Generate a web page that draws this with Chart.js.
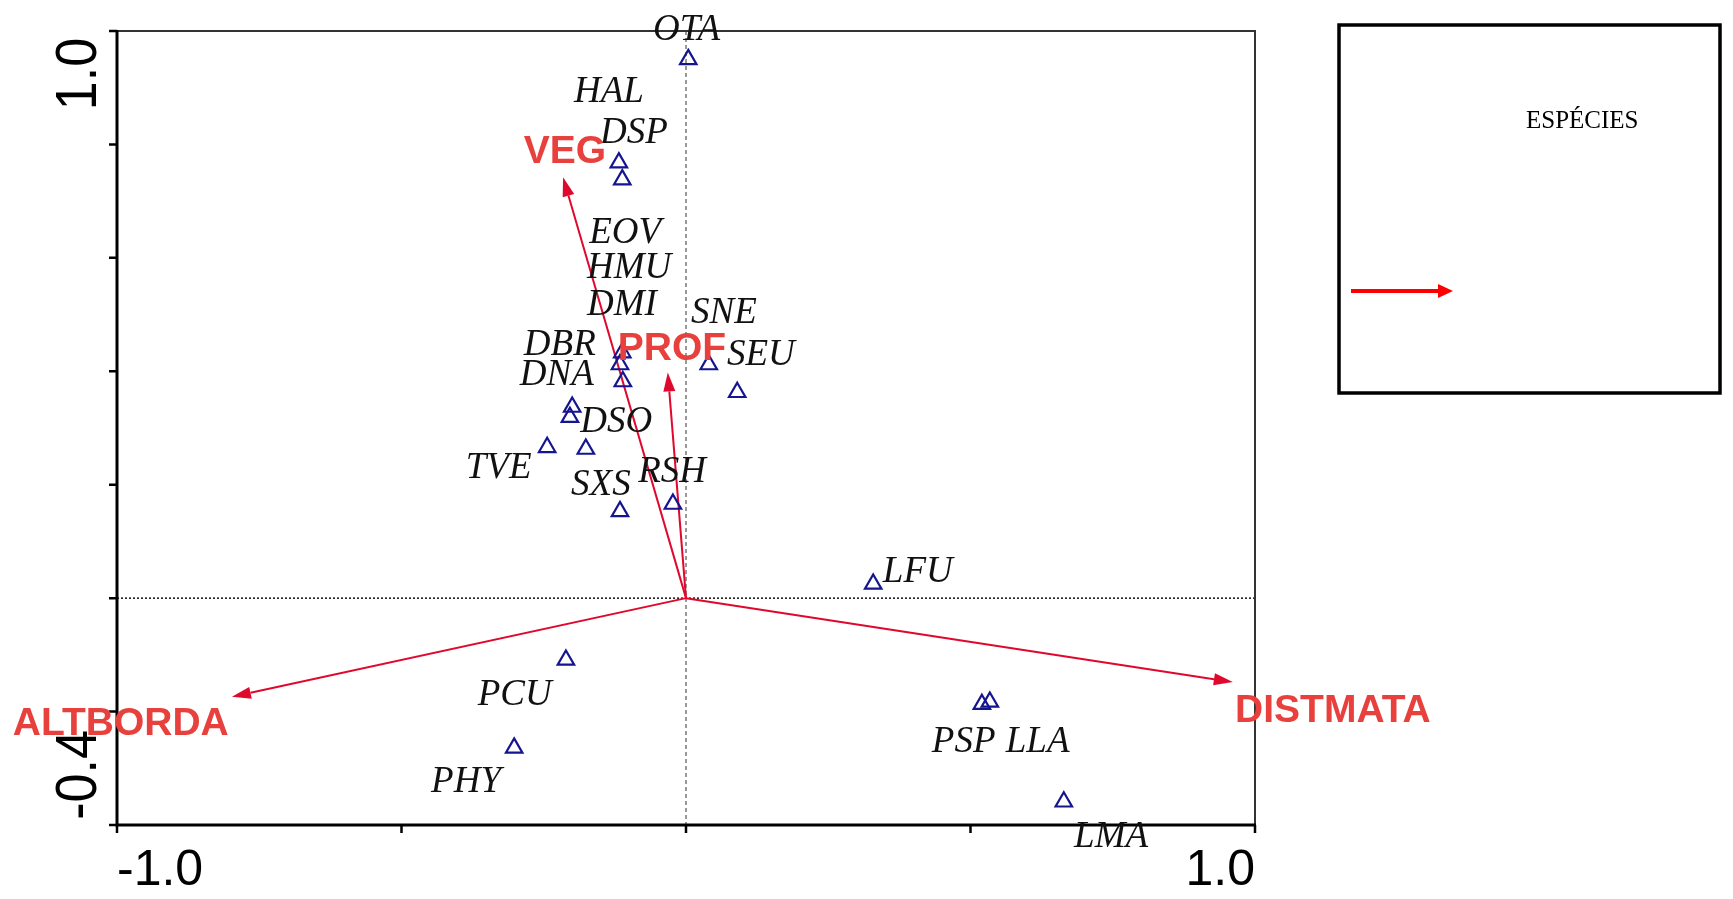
<!DOCTYPE html>
<html>
<head>
<meta charset="utf-8">
<script src="https://cdn.jsdelivr.net/npm/chart.js@4/dist/chart.umd.min.js"></script>
<style>
  html, body { margin: 0; padding: 0; background: #fff; }
  #wrap { width: 1733px; height: 899px; }
</style>
</head>
<body>
<div id="wrap"><canvas id="myChart" width="1733" height="899"></canvas></div>
<script>
// Species scores (triangles)
const speciesX = [0.004, -0.118, -0.112, -0.112, -0.116, -0.111, -0.200, -0.204, 0.040, 0.090,
  -0.244, -0.176, -0.116, -0.023, 0.329, -0.211, -0.302, 0.520, 0.534, 0.664];
const speciesY = [0.950, 0.768, 0.738, 0.433, 0.412, 0.382, 0.337, 0.319, 0.412, 0.363,
  0.266, 0.263, 0.153, 0.166, 0.025, -0.109, -0.264, -0.187, -0.183, -0.359];

// Species names, written where the figure writes them (left / baseline, in axis units)
const speciesNames = ['OTA', 'HAL', 'DSP', 'EOV', 'HMU', 'DMI', 'DBR', 'DNA', 'DSO', 'SNE',
  'SEU', 'TVE', 'SXS', 'RSH', 'LFU', 'PCU', 'PHY', 'PSP', 'LLA', 'LMA'];
const nameX = [-0.058, -0.197, -0.151, -0.170, -0.174, -0.174, -0.285, -0.292, -0.186, 0.009,
  0.072, -0.387, -0.202, -0.084, 0.346, -0.366, -0.448, 0.432, 0.562, 0.682];
const nameY = [0.985, 0.874, 0.802, 0.626, 0.564, 0.499, 0.428, 0.375, 0.293, 0.485,
  0.411, 0.211, 0.181, 0.204, 0.028, -0.189, -0.342, -0.271, -0.271, -0.439];

// Environmental variables (arrow tips) and their names
const envNames = ['VEG', 'PROF', 'ALTBORDA', 'DISTMATA'];
const envX = [-0.216, -0.032, -0.798, 0.961];
const envY = [0.742, 0.398, -0.174, -0.148];
const envNameX = [-0.285, -0.120, -1.183, 0.965];
const envNameY = [0.767, 0.420, -0.241, -0.219];

// Axes
const xTickValues = [-1, -0.5, 0, 0.5, 1];
const yTickValues = [1.0, 0.8, 0.6, 0.4, 0.2, 0, -0.2, -0.4];
const xTickLabels = ['-1.0', '1.0']; // only the two ends are labelled
const yTickLabels = ['1.0', '-0.4'];

const legendText = 'ESPÉCIES';

function drawArrow(ctx, x0, y0, x1, y1, head, half, color, width) {
  const ang = Math.atan2(y1 - y0, x1 - x0);
  const bx = x1 - Math.cos(ang) * head;
  const by = y1 - Math.sin(ang) * head;
  ctx.save();
  ctx.strokeStyle = color;
  ctx.fillStyle = color;
  ctx.lineWidth = width;
  ctx.beginPath();
  ctx.moveTo(x0, y0);
  ctx.lineTo(bx, by);
  ctx.stroke();
  ctx.beginPath();
  ctx.moveTo(x1, y1);
  ctx.lineTo(bx + Math.sin(ang) * half, by - Math.cos(ang) * half);
  ctx.lineTo(bx - Math.sin(ang) * half, by + Math.cos(ang) * half);
  ctx.closePath();
  ctx.fill();
  ctx.restore();
}

const biplotPlugin = {
  id: 'biplot',
  beforeDatasetsDraw(chart) {
    const { ctx, chartArea: a, scales: { x, y } } = chart;
    const x0 = x.getPixelForValue(0);
    const y0 = y.getPixelForValue(0);

    // zero lines
    ctx.save();
    ctx.strokeStyle = '#333';
    ctx.lineWidth = 1;
    ctx.setLineDash([4, 3]);
    ctx.beginPath();
    ctx.moveTo(x0, a.top);
    ctx.lineTo(x0, a.bottom);
    ctx.stroke();
    ctx.strokeStyle = '#111';
    ctx.lineWidth = 1.5;
    ctx.setLineDash([2, 2]);
    ctx.beginPath();
    ctx.moveTo(a.left, y0);
    ctx.lineTo(a.right, y0);
    ctx.stroke();
    ctx.restore();

    // environmental arrows
    envX.forEach((v, i) => {
      drawArrow(ctx, x0, y0, x.getPixelForValue(v), y.getPixelForValue(envY[i]), 19, 6, '#e0082d', 2);
    });
  },
  afterDraw(chart) {
    const { ctx, chartArea: a, scales: { x, y } } = chart;
    ctx.save();

    // frame: top and right thinner
    ctx.strokeStyle = '#333';
    ctx.lineWidth = 2;
    ctx.beginPath();
    ctx.moveTo(a.left, a.top);
    ctx.lineTo(a.right, a.top);
    ctx.lineTo(a.right, a.bottom);
    ctx.stroke();

    // left and bottom axes
    ctx.strokeStyle = '#000';
    ctx.lineWidth = 3;
    ctx.beginPath();
    ctx.moveTo(a.left, a.top - 1);
    ctx.lineTo(a.left, a.bottom);
    ctx.lineTo(a.right + 1, a.bottom);
    ctx.stroke();

    // ticks
    ctx.lineWidth = 2.5;
    ctx.beginPath();
    yTickValues.forEach(v => {
      const py = y.getPixelForValue(v);
      ctx.moveTo(a.left - 8, py);
      ctx.lineTo(a.left, py);
    });
    xTickValues.forEach(v => {
      const px = x.getPixelForValue(v);
      ctx.moveTo(px, a.bottom);
      ctx.lineTo(px, a.bottom + 8);
    });
    ctx.stroke();

    // tick labels
    ctx.fillStyle = '#000';
    ctx.font = '50px "Liberation Sans", Arial, sans-serif';
    ctx.textBaseline = 'alphabetic';
    ctx.textAlign = 'left';
    ctx.fillText(xTickLabels[0], x.getPixelForValue(-1), a.bottom + 60);
    ctx.textAlign = 'right';
    ctx.fillText(xTickLabels[1], x.getPixelForValue(1), a.bottom + 60);

    ctx.font = '52px "Liberation Sans", Arial, sans-serif';
    ctx.textAlign = 'center';
    [[yTickLabels[0], y.getPixelForValue(1) + 43], [yTickLabels[1], y.getPixelForValue(-0.4) - 50]].forEach(([t, py]) => {
      ctx.save();
      ctx.translate(a.left - 21, py);
      ctx.rotate(-Math.PI / 2);
      ctx.scale(1, 1.1);
      ctx.fillText(t, 0, 0);
      ctx.restore();
    });

    // species names
    ctx.font = 'italic 37px "Liberation Serif", "Times New Roman", serif';
    ctx.textAlign = 'left';
    ctx.fillStyle = '#111';
    speciesNames.forEach((n, i) => {
      ctx.fillText(n, x.getPixelForValue(nameX[i]), y.getPixelForValue(nameY[i]));
    });

    // environmental variable names
    ctx.font = 'bold 39px "Liberation Sans", Arial, sans-serif';
    ctx.fillStyle = '#e8403c';
    envNames.forEach((n, i) => {
      ctx.fillText(n, x.getPixelForValue(envNameX[i]), y.getPixelForValue(envNameY[i]));
    });

    // legend box
    ctx.strokeStyle = '#000';
    ctx.lineWidth = 3.5;
    ctx.strokeRect(1339, 25, 381, 368);
    ctx.fillStyle = '#000';
    ctx.font = '25px "Liberation Serif", "Times New Roman", serif';
    ctx.fillText(legendText, 1526, 128);
    drawArrow(ctx, 1351, 291, 1453, 291, 15, 7, '#ff0000', 4);

    ctx.restore();
  }
};

const data = {
  datasets: [
    {
      label: 'Espécies',
      data: speciesX.map((v, i) => ({ x: v, y: speciesY[i] })),
      pointStyle: 'triangle',
      pointRadius: 9.5,
      pointBorderWidth: 2.2,
      borderColor: '#15158f',
      backgroundColor: 'rgba(0,0,0,0)',
      showLine: false,
      clip: false,
    },
  ],
};

const config = {
  type: 'scatter',
  data: data,
  options: {
    responsive: false,
    devicePixelRatio: 1,
    animation: false,
    events: [],
    layout: {
      padding: { left: 117, right: 478, top: 31, bottom: 74 },
    },
    scales: {
      x: { type: 'linear', min: -1, max: 1, display: false },
      y: { type: 'linear', min: -0.4, max: 1.0, display: false },
    },
    plugins: {
      legend: { display: false },
      tooltip: { enabled: false },
    },
  },
  plugins: [biplotPlugin],
};

const myChart = new Chart(document.getElementById('myChart'), config);
</script>
</body>
</html>
